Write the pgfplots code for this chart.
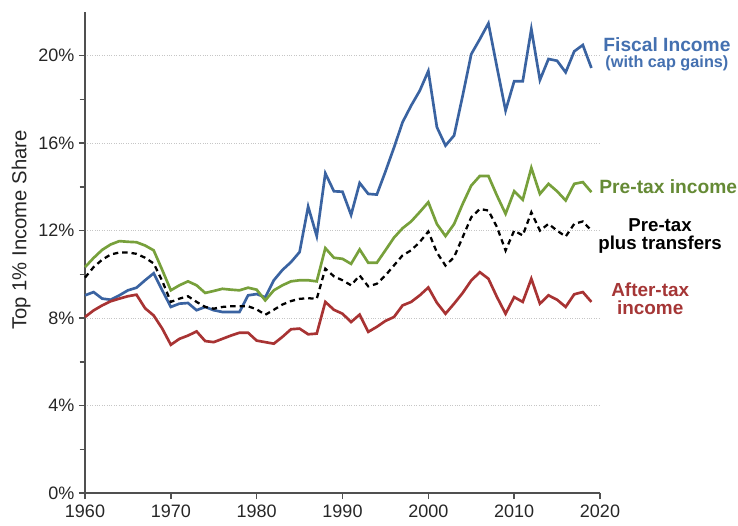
\documentclass[border=0pt]{standalone}
\usepackage{pgfplots}
\pgfplotsset{compat=1.18}
\usepackage{pgfplotstable}
\usepackage{fontspec}
\setmainfont{Liberation Sans}
\definecolor{fblue}{HTML}{3A63A1}
\definecolor{fbluelab}{HTML}{4470B0}
\definecolor{pgreen}{HTML}{77A03B}
\definecolor{pgreenlab}{HTML}{658A35}
\definecolor{ared}{HTML}{A83333}
\definecolor{aredlab}{HTML}{A53636}
\definecolor{axgray}{HTML}{505050}

\pgfplotstableread{
year fiscal pretax ptt after
1960 9.04 10.33 9.85 8.05
1961 9.19 10.75 10.33 8.35
1962 8.89 11.12 10.67 8.58
1963 8.84 11.37 10.91 8.77
1964 9.04 11.52 11.00 8.89
1965 9.27 11.49 11.00 9.00
1966 9.39 11.47 10.94 9.07
1967 9.73 11.32 10.76 8.45
1968 10.05 11.10 10.50 8.12
1969 9.27 10.20 9.70 7.52
1970 8.51 9.27 8.74 6.78
1971 8.66 9.50 8.89 7.05
1972 8.69 9.68 9.00 7.20
1973 8.36 9.50 8.74 7.39
1974 8.51 9.15 8.51 6.95
1975 8.36 9.24 8.43 6.90
1976 8.28 9.34 8.51 7.05
1977 8.28 9.30 8.54 7.20
1978 8.28 9.27 8.54 7.33
1979 9.04 9.39 8.54 7.33
1980 9.10 9.30 8.40 6.97
1981 8.95 8.81 8.15 6.90
1982 9.73 9.27 8.38 6.83
1983 10.20 9.50 8.62 7.14
1984 10.56 9.68 8.78 7.49
1985 11.02 9.73 8.88 7.52
1986 13.10 9.73 8.91 7.26
1987 11.75 9.68 8.88 7.29
1988 14.62 11.20 10.26 8.74
1989 13.80 10.76 9.91 8.38
1990 13.78 10.71 9.73 8.20
1991 12.72 10.48 9.50 7.82
1992 14.18 11.14 9.95 8.16
1993 13.68 10.53 9.45 7.37
1994 13.65 10.53 9.57 7.60
1995 14.70 11.10 9.95 7.87
1996 15.80 11.68 10.41 8.05
1997 16.96 12.11 10.87 8.58
1998 17.72 12.42 11.10 8.74
1999 18.40 12.85 11.48 9.04
2000 19.30 13.30 11.96 9.40
2001 16.73 12.30 11.00 8.70
2002 15.89 11.75 10.40 8.20
2003 16.35 12.30 10.79 8.66
2004 18.17 13.22 11.70 9.15
2005 20.07 14.06 12.61 9.72
2006 20.76 14.50 12.99 10.10
2007 21.48 14.50 12.92 9.80
2008 19.47 13.60 12.16 8.96
2009 17.49 12.77 11.09 8.20
2010 18.83 13.80 12.00 8.96
2011 18.83 13.41 11.78 8.74
2012 21.22 14.87 12.84 9.80
2013 18.89 13.68 12.00 8.66
2014 19.85 14.14 12.31 9.04
2015 19.77 13.80 12.00 8.84
2016 19.24 13.38 11.73 8.51
2017 20.20 14.14 12.31 9.09
2018 20.49 14.22 12.42 9.19
2019 19.44 13.76 12.00 8.74
}\datatable

\begin{document}
\begin{tikzpicture}
\useasboundingbox (-63.75pt,-24pt) rectangle (489.75pt,369.75pt);
\begin{axis}[
  at={(0,0)}, anchor=south west,
  scale only axis, width=386.25pt, height=360.75pt,
  xmin=1960, xmax=2020, ymin=0, ymax=22,
  axis x line*=bottom, axis y line*=left,
  axis line style={axgray, line width=1.1pt},
  every tick/.style={axgray, line width=1.1pt},
  tick align=outside,
  major tick length=4.5pt, minor tick length=4pt,
  xtick={1960,1970,1980,1990,2000,2010,2020},
  xticklabels={1960,1970,1980,1990,2000,2010,2020},
  ytick={0,4,8,12,16,20},
  yticklabels={0\%,4\%,8\%,12\%,16\%,20\%},
  minor ytick={2,6,10,14,18},
  ymajorgrids,
  major grid style={gray!45, line width=0.8pt, densely dotted},
  tick label style={font=\fontsize{13.5}{15}\selectfont, text=black!85},
  xticklabel style={yshift=-1pt},
  clip=false,
]
\addplot[fblue, line width=2pt] table[x=year, y=fiscal] {\datatable};
\addplot[pgreen, line width=2pt] table[x=year, y=pretax] {\datatable};
\addplot[black, line width=1.7pt, dash pattern=on 4pt off 3pt] table[x=year, y=ptt] {\datatable};
\addplot[ared, line width=2pt] table[x=year, y=after] {\datatable};

\node[anchor=north, text=fbluelab, align=center, inner sep=0pt, font=\bfseries\fontsize{14.4}{12.2}\selectfont] at (axis cs:2027.8,20.84) {Fiscal Income\\{\fontsize{12.2}{12.2}\selectfont (with cap gains)}};
\node[anchor=base, text=pgreenlab, font=\bfseries\fontsize{14.4}{16}\selectfont, inner sep=0pt] at (axis cs:2027.95,13.70) {Pre-tax income};
\node[anchor=north, text=black, align=center, inner sep=0pt, font=\bfseries\fontsize{14}{13.6}\selectfont] at (axis cs:2027.0,12.55) {Pre-tax\\plus transfers};
\node[anchor=north, text=aredlab, align=center, inner sep=0pt, font=\bfseries\fontsize{14.2}{13.8}\selectfont] at (axis cs:2025.85,9.65) {After-tax\\income};
\node[rotate=90, anchor=center, text=black!85, font=\fontsize{15.2}{17}\selectfont] at (axis description cs:-0.124,0.547) {Top 1\% Income Share};
\end{axis}
\end{tikzpicture}
\end{document}
